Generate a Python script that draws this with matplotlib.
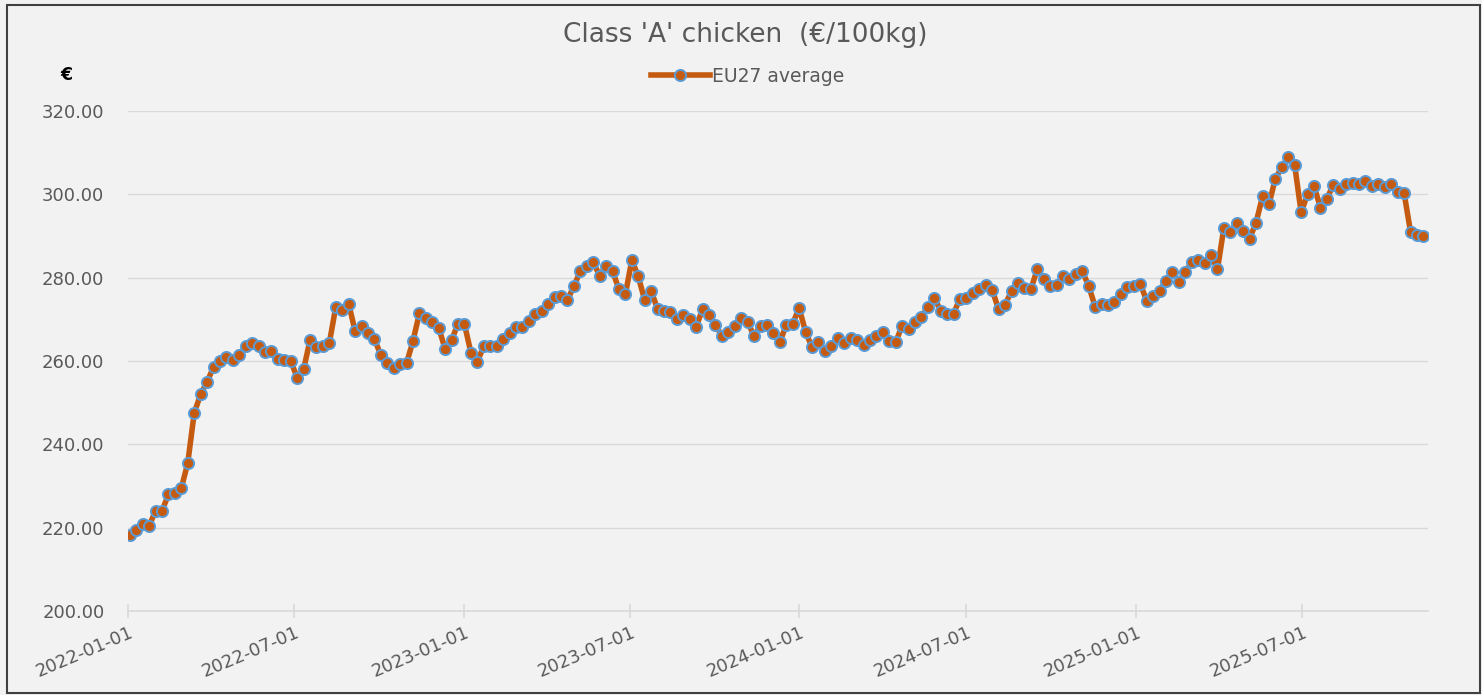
import matplotlib
matplotlib.use("Agg")
import matplotlib.pyplot as plt
from matplotlib.ticker import FuncFormatter
from matplotlib.patches import Rectangle
from matplotlib.transforms import ScaledTranslation
import pandas as pd

title = "Class 'A' chicken  (€/100kg)"
series_name = "EU27 average"
y_unit = "€"
start_date = "2022-01-03"

eu27_avg = [
    218.2, 219.5, 221.0, 220.5, 224.0, 224.0, 228.0, 228.3, 229.5, 235.5,
    247.5, 252.0, 255.0, 258.5, 260.0, 261.0, 260.2, 261.5, 263.5, 264.3,
    263.5, 262.2, 262.3, 260.5, 260.2, 260.0, 256.0, 258.0, 265.0, 263.3,
    263.5, 264.3, 273.0, 272.3, 273.8, 267.2, 268.5, 266.8, 265.2, 261.5,
    259.5, 258.3, 259.3, 259.5, 264.8, 271.5, 270.3, 269.3, 268.0, 262.8,
    265.0, 269.0, 268.8, 262.0, 259.8, 263.6, 263.5, 263.5, 265.3, 266.8,
    268.1, 268.2, 269.6, 271.4, 272.0, 273.6, 275.3, 275.5, 274.6, 278.0,
    281.5, 282.8, 283.7, 280.5, 282.8, 281.6, 277.2, 276.0, 284.2, 280.3,
    274.6, 276.8, 272.5, 271.9, 271.7, 270.0, 271.0, 270.0, 268.2, 272.5,
    271.0, 268.6, 266.0, 267.0, 268.3, 270.4, 269.3, 266.0, 268.5, 268.7,
    266.8, 264.6, 268.6, 269.0, 272.7, 267.0, 263.3, 264.5, 262.5, 263.7,
    265.5, 264.3, 265.5, 265.0, 263.8, 265.1, 266.1, 266.9, 264.8, 264.5,
    268.5, 267.6, 269.3, 270.6, 272.9, 275.1, 272.1, 271.4, 271.4, 275.0,
    275.1, 276.4, 277.4, 278.3, 277.0, 272.4, 273.5, 276.8, 278.8, 277.5,
    277.2, 282.0, 279.8, 278.1, 278.2, 280.3, 279.8, 280.9, 281.5, 278.0,
    273.0, 273.7, 273.5, 274.2, 276.0, 277.8, 278.1, 278.5, 274.5, 275.5,
    276.9, 279.2, 281.4, 279.0, 281.3, 283.8, 284.3, 283.5, 285.5, 282.0,
    292.0, 291.0, 293.1, 291.1, 289.4, 293.2, 299.5, 297.6, 303.8, 306.5,
    309.0, 307.0, 295.7, 300.0, 302.0, 296.8, 299.0, 302.2, 301.2, 302.5,
    302.7, 302.6, 303.3, 302.0, 302.5, 301.8, 302.6, 300.6, 300.3, 291.0,
    290.3, 290.0,
]
x_ticks = ["2022-01-01", "2022-07-01", "2023-01-01", "2023-07-01",
           "2024-01-01", "2024-07-01", "2025-01-01", "2025-07-01"]
y_ticks = [200, 220, 240, 260, 280, 300, 320]

dates = pd.date_range(start_date, periods=len(eu27_avg), freq="7D")

bg = "#f2f2f2"
grey = "#595959"
fnt = "DejaVu Sans"
fig = plt.figure(figsize=(14.82, 6.95), dpi=100, facecolor=bg)
ax = fig.add_axes([128 / 1482, 84 / 695, 1300 / 1482, 500 / 695], facecolor=bg)

ax.plot(dates, eu27_avg, color="#c55a11", lw=4, marker="o", ms=8,
        mfc="#c55a11", mec="#5b9bd5", mew=1.4, label=series_name, zorder=3)

ax.set_ylim(200, 320)
ax.set_yticks(y_ticks)
ax.yaxis.set_major_formatter(FuncFormatter(lambda v, p: f"{v:.2f}"))
ax.set_xlim(pd.Timestamp("2022-01-01"), pd.Timestamp("2025-11-15"))
ax.set_xticks(pd.to_datetime(x_ticks))
ax.set_xticklabels(x_ticks, rotation=23, ha="right", va="top",
                   rotation_mode="anchor")

ax.grid(axis="y", color="#d9d9d9", lw=1)
ax.set_axisbelow(True)
for s in ["top", "right", "left"]:
    ax.spines[s].set_visible(False)
ax.spines["bottom"].set_color("#d9d9d9")
ax.spines["bottom"].set_linewidth(1.2)
ax.tick_params(axis="y", length=0, labelsize=13, labelcolor=grey, pad=17)
ax.tick_params(axis="x", length=10, direction="inout", width=1.2, color="#d9d9d9",
               labelsize=13, labelcolor=grey, pad=4)
off = ScaledTranslation(1 / 100, 0, fig.dpi_scale_trans)
for lab in ax.get_xticklabels():
    lab.set_family(fnt)
    lab.set_transform(lab.get_transform() + off)
for lab in ax.get_yticklabels():
    lab.set_family(fnt)

fig.text(745 / 1482, 1 - 35 / 695, title, ha="center", va="center", fontsize=19,
         color=grey, family=fnt)
fig.text(66 / 1482, 1 - 75 / 695, y_unit, ha="center", va="center", fontsize=12.5,
         color="black", family=fnt, fontweight="bold")
leg = ax.legend(loc="center", bbox_to_anchor=(748 / 1482, 1 - 76 / 695),
                bbox_transform=fig.transFigure, frameon=False,
                prop={"family": fnt, "size": 13.5},
                handlelength=3.1, handletextpad=0.15, borderpad=0)
for t in leg.get_texts():
    t.set_color(grey)

fig.patches.append(Rectangle((7 / 1482, 2 / 695), 1473 / 1482, 688 / 695,
                             transform=fig.transFigure, fill=False,
                             edgecolor="#404040", lw=1.5))

fig.savefig("out.png", dpi=100, facecolor=bg)
